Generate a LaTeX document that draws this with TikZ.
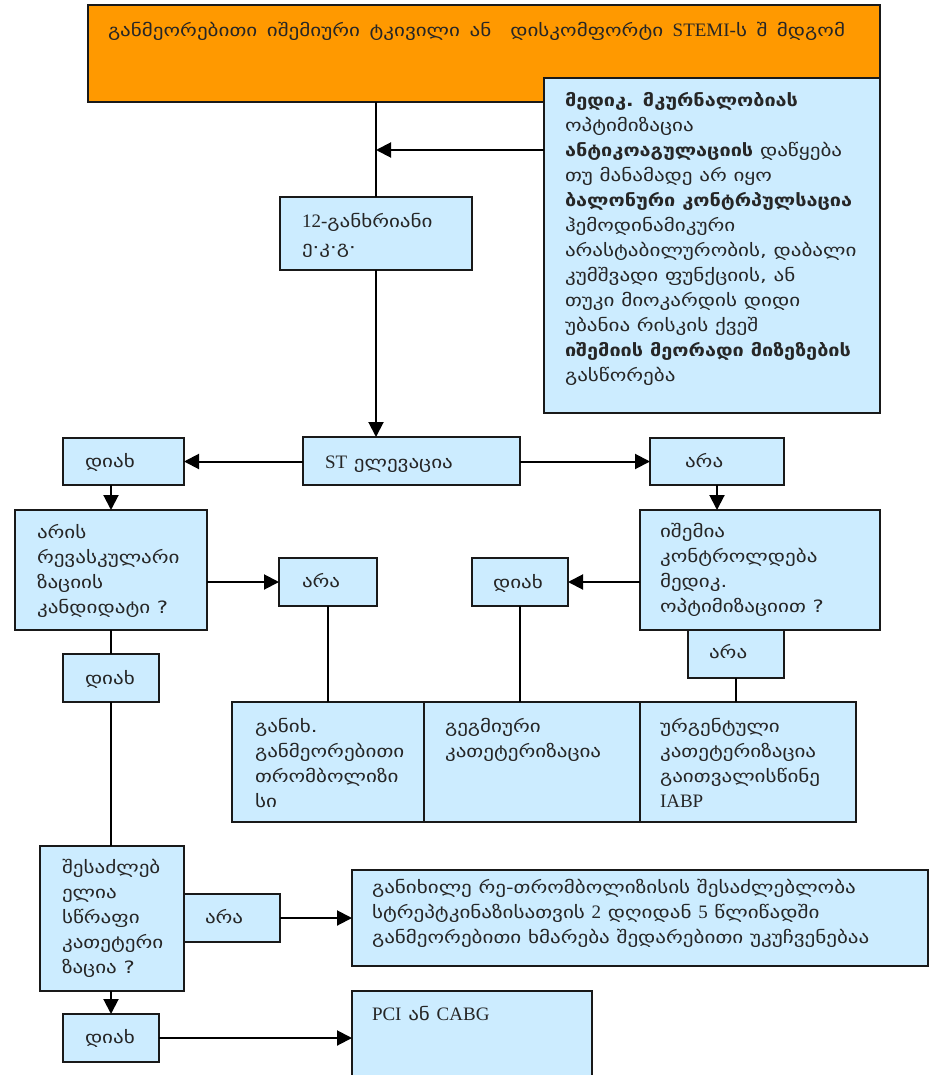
\documentclass[tikz,border=0pt]{standalone}
\usepackage{fontspec}
\setmainfont{DejaVu Sans}[FakeStretch=1.24,BoldFeatures={FakeStretch=1.17}]
\newfontfamily\lat{Liberation Serif}
\usetikzlibrary{arrows.meta}
\definecolor{lb}{RGB}{204,236,255}
\definecolor{orng}{RGB}{255,153,0}
\newcommand\rw[1]{\hbox{#1}}
\newcommand\la[1]{{\lat\fontsize{19}{25}\selectfont #1}}
\newcommand\blk[1]{\vtop{\baselineskip=25pt\lineskiplimit=-20pt #1}}
\newcommand\bx[6][lb]{%
  \pgfmathsetmacro\bw{#5-#3}\pgfmathsetmacro\bh{#6-#4}%
  \node[box,fill=#1,minimum width=\bw pt,minimum height=\bh pt] (#2) at (#3,#4) {};}
\tikzset{
  box/.style={draw=black!90, line width=2pt, anchor=north west, inner sep=0pt, outer sep=0pt},
  txt/.style={anchor=base west, inner sep=0pt, outer sep=0pt, text=black!85, font=\fontsize{17}{25}\selectfont},
  arr/.style={line width=2pt, -{Triangle[length=15pt,width=15pt]}},
  ln/.style={line width=2pt}
}
\begin{document}
\begin{tikzpicture}[x=1pt,y=-1pt]
\useasboundingbox (0,0) rectangle (929,1075);
\clip (0,0) rectangle (929,1075);
% boxes
\bx[orng]{title}{88}{5}{880}{102}
\bx{rbox}{544}{78}{880}{413}
\bx{lead}{280}{197}{472}{270}
\bx{st}{303}{437}{520}{485}
\bx{yes1}{63}{438}{184}{485}
\bx{no1}{650}{438}{784}{485}
\bx{revasc}{15}{510}{207}{630}
\bx{no2}{279}{558}{377}{606}
\bx{isch}{640}{510}{880}{630}
\bx{yes3}{472}{558}{568}{606}
\bx{no3}{688}{630}{784}{678}
\bx{bone}{232}{702}{424}{822}
\bx{btwo}{424}{702}{640}{822}
\bx{bthree}{640}{702}{856}{822}
\bx{yes2}{63}{654}{159}{702}
\bx{fast}{40}{846}{184}{991}
\bx{no4}{184}{894}{280}{942}
\bx{rethr}{352}{870}{928}{966}
\bx{yes4}{63}{1014}{159}{1062}
\bx{pci}{352}{991}{592}{1095}
% connectors
\coordinate (j1) at (376,150);
\draw[ln] (lead.north |- title.south) -- (lead.north);
\draw[arr] (rbox.west |- j1) -- (j1);
\draw[arr] (lead.south) -- (lead.south |- st.north);
\draw[arr] (st.west |- yes1.east) -- (yes1.east);
\draw[arr] (st.east |- no1.west) -- (no1.west);
\draw[arr] (revasc.north |- yes1.south) -- (revasc.north);
\draw[arr] (no1.south) -- (no1.south |- isch.north);
\draw[arr] (revasc.east |- no2.west) -- (no2.west);
\draw[arr] (isch.west |- yes3.east) -- (yes3.east);
\draw[ln] (no2.south) -- (no2.south |- bone.north);
\draw[ln] (yes3.south) -- (yes3.south |- btwo.north);
\draw[ln] (no3.south) -- (no3.south |- bthree.north);
\draw[ln] (revasc.south) -- (yes2.north);
\draw[ln] (yes2.south) -- (yes2.south |- fast.north);
\draw[arr] (no4.east) -- (rethr.west |- no4.east);
\draw[arr] (fast.south -| yes4.north) -- (yes4.north);
\draw[arr] (yes4.east) -- (pci.west |- yes4.east);
% texts
\node[txt] (ttitle) at (108,37) {\spaceskip=9.5pt განმეორებითი იშემიური ტკივილი ან\ \ დისკომფორტი \la{STEMI-}ს შ მდგომ};
\node[txt] (trbox) at (565,107) {\blk{%
  \rw{\bfseries მედიკ. მკურნალობიას}
  \rw{ოპტიმიზაცია}
  \rw{{\bfseries ანტიკოაგულაციის} დაწყება}
  \rw{თუ მანამადე არ იყო}
  \rw{\bfseries ბალონური კონტრპულსაცია}
  \rw{ჰემოდინამიკური}
  \rw{არასტაბილურობის, დაბალი}
  \rw{კუმშვადი ფუნქციის, ან}
  \rw{თუკი მიოკარდის დიდი}
  \rw{უბანია რისკის ქვეშ}
  \rw{\bfseries იშემიის მეორადი მიზეზების}
  \rw{გასწორება}}};
\node[txt] (tlead) at (302,228) {\blk{\rw{\la{12-}განხრიანი}\rw{ე·კ·გ·}}};
\node[txt] (tst) at (325,468) {\la{ST} ელევაცია};
\node[txt] (tyes1) at (85,467) {დიახ};
\node[txt] (tno1) at (685,467) {არა};
\node[txt] (trevasc) at (37,538) {\blk{\rw{არის}\rw{რევასკულარი}\rw{ზაციის}\rw{კანდიდატი ?}}};
\node[txt] (tno2) at (302,587) {არა};
\node[txt] (tisch) at (660,537) {\blk{\rw{იშემია}\rw{კონტროლდება}\rw{მედიკ.}\rw{ოპტიმიზაციით ?}}};
\node[txt] (tyes3) at (493,588) {დიახ};
\node[txt] (tno3) at (709,658) {არა};
\node[txt] (tyes2) at (85,684) {დიახ};
\node[txt] (tbone) at (255,732) {\blk{\rw{განიხ.}\rw{განმეორებითი}\rw{თრომბოლიზი}\rw{სი}}};
\node[txt] (tbtwo) at (445,732) {\blk{\rw{გეგმიური}\rw{კათეტერიზაცია}}};
\node[txt] (tbthree) at (660,732) {\blk{\rw{ურგენტული}\rw{კათეტერიზაცია}\rw{გაითვალისწინე}\rw{\la{IABP}}}};
\node[txt] (tfast) at (62,873) {\blk{\rw{შესაძლებ}\rw{ელია}\rw{სწრაფი}\rw{კათეტერი}\rw{ზაცია ?}}};
\node[txt] (tno4) at (205,923) {არა};
\node[txt] (trethr) at (372,893) {\blk{\rw{განიხილე რე-თრომბოლიზისის შესაძლებლობა}\rw{სტრეპტკინაზისათვის \la{2} დღიდან \la{5} წლიწადში}\rw{განმეორებითი ხმარება შედარებითი უკუჩვენებაა}}};
\node[txt] (tyes4) at (85,1043) {დიახ};
\node[txt] (tpci) at (372,1020) {\la{PCI} ან \la{CABG}};
\end{tikzpicture}
\end{document}
